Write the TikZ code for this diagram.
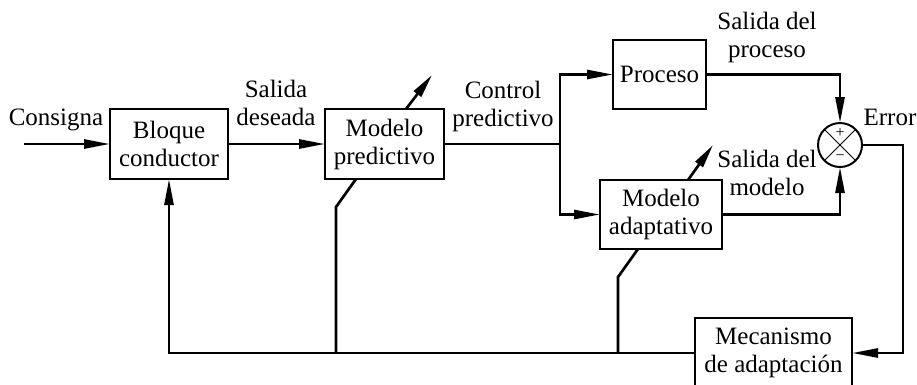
\documentclass[tikz,border=0pt]{standalone}
\usepackage{fontspec}
\setmainfont{Liberation Serif}
\usetikzlibrary{arrows.meta}
\begin{document}
\begin{tikzpicture}[x=1pt,y=-1pt,
  every node/.style={font=\fontsize{25}{28}\selectfont, inner sep=0pt, outer sep=0pt},
  block/.style={draw, line width=1.6pt, align=center},
  lbl/.style={align=center},
  wire/.style={line width=2.7pt},
  flow/.style={wire, -{Triangle[length=26pt,width=9pt]}},
  tilt/.style={wire, -{Triangle[length=24pt,width=9pt]}},
  signmark/.style={font=\fontsize{16}{16}\selectfont},
]
\useasboundingbox (0,0) rectangle (917,384);

% blocks
\node[block, minimum width=118pt, minimum height=70pt] (bloque) at (169,144) {Bloque\\conductor};
\node[block, minimum width=119pt, minimum height=70pt] (predictivo) at (384.5,144) {Modelo\\predictivo};
\node[block, minimum width=93pt, minimum height=69pt] (proceso) at (659.5,74.5) {Proceso};
\node[block, minimum width=122pt, minimum height=69pt] (adaptativo) at (661,214.5) {Modelo\\adaptativo};
\node[block, minimum width=157pt, minimum height=70pt] (mecanismo) at (773.5,353) {Mecanismo\\de adaptación};

% summing junction
\node[draw, circle, line width=2pt, minimum size=44pt] (sum) at (840,145) {};
\draw[line width=1pt] (sum.north east) -- (sum.south west) (sum.north west) -- (sum.south east);
\node[signmark] (plus) at (840,133) {+};
\node[signmark] (minus) at (840,157.5) {−};

% labels
\node[anchor=base] (consigna) at (56,125) {Consigna};
\node[lbl] (deseada) at (276,102.5) {Salida\\deseada};
\node[lbl] (control) at (503,106) {Control\\predictivo};
\node[lbl] (sproceso) at (767,37) {Salida del\\proceso};
\node[lbl] (smodelo) at (767,173) {Salida del\\modelo};
\node[anchor=base] (error) at (890,125) {Error};

% helper points
\coordinate (in) at (24,144);
\coordinate (split) at (560,144);
\coordinate (ecorner) at (903,145);
\coordinate (fb1) at (336,353);
\coordinate (fb1k) at (336,207);
\coordinate (fb1e) at (356,179);
\coordinate (fb2) at (618,353);
\coordinate (fb2k) at (618,277);
\coordinate (fb2e) at (638,249);
\coordinate (t1s) at (406,109);
\coordinate (t1e) at (432,75);
\coordinate (t2s) at (688,180);
\coordinate (t2e) at (713,145);

% forward path
\draw[flow] (in) -- (bloque.west);
\draw[flow] (bloque.east) -- (predictivo.west);
\draw[wire] (predictivo.east) -- (split);
\draw[flow] (split) |- (proceso.west);
\draw[flow] (split) |- (adaptativo.west);
\draw[flow] (proceso.east) -| (sum.north);
\draw[flow] (adaptativo.east) -| (sum.south);
\draw[flow] (sum.east) -- (ecorner) |- (mecanismo.east);

% adaptation feedback
\draw[flow] (mecanismo.west) -| (bloque.south);
\draw[wire] (fb1) -- (fb1k) -- (fb1e);
\draw[wire] (fb2) -- (fb2k) -- (fb2e);

% adjustable-parameter arrows
\draw[tilt] (t1s) -- (t1e);
\draw[tilt] (t2s) -- (t2e);
\end{tikzpicture}
\end{document}
